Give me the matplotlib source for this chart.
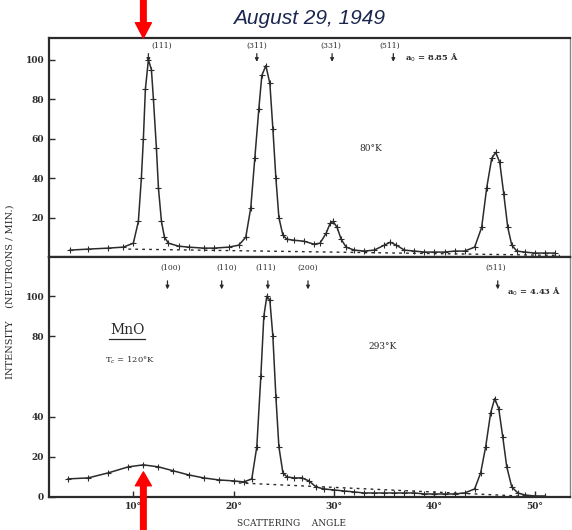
import matplotlib
matplotlib.use("Agg")
import matplotlib.pyplot as plt

#%% Data

# Upper panel: 80 K
ang_80 = [3.7, 5.5, 7.5, 9.0, 10.0, 10.5, 10.8, 11.0, 11.2, 11.5, 11.8, 12.0, 12.3, 12.5,
          12.8, 13.1, 13.5, 14.5, 15.5, 17.0, 18.0, 19.5, 20.5, 21.2, 21.7, 22.1, 22.5,
          22.8, 23.2, 23.6, 23.9, 24.2, 24.5, 24.9, 25.3, 26.0, 27.0, 28.0, 28.6, 29.2,
          29.6, 29.9, 30.3, 30.7, 31.2, 32.0, 33.0, 34.0, 35.0, 35.6, 36.2, 37.0, 38.0,
          39.0, 40.0, 41.0, 42.0, 43.0, 44.0, 44.7, 45.2, 45.7, 46.1, 46.5, 46.9, 47.3,
          47.7, 48.2, 49.0, 50.0, 51.0, 52.0]
int_80 = [3.5, 4, 4.5, 5, 7, 18, 40, 60, 85, 100, 95, 80, 55, 35,
          18, 10, 7, 5.5, 5, 4.5, 4.5, 5, 6, 10, 25, 50, 75,
          92, 97, 88, 65, 40, 20, 11, 9, 8.5, 8, 6.5, 7, 12,
          17, 18, 15, 9, 5, 3.5, 3, 3.5, 6, 7.5, 6, 3.5, 3,
          2.5, 2.5, 2.5, 3, 3, 5, 15, 35, 50, 53, 48, 32, 15,
          6, 3, 2.5, 2, 2, 2]
bg_80_ang = [9.5, 52.5]
bg_80_int = [4, 0.8]

# Lower panel: 293 K
ang_293 = [3.5, 5.5, 7.5, 9.5, 11.0, 12.5, 14.0, 15.5, 17.0, 18.5, 20.0, 21.0, 21.8,
           22.3, 22.7, 23.0, 23.3, 23.6, 23.9, 24.2, 24.5, 24.9, 25.3, 26.0, 26.8,
           27.5, 28.2, 29.0, 30.0, 31.0, 32.0, 33.0, 34.0, 35.0, 36.0, 37.0, 38.0,
           39.0, 40.0, 41.0, 42.0, 43.0, 44.0, 44.6, 45.1, 45.6, 46.0, 46.4, 46.8,
           47.2, 47.7, 48.3, 49.0, 50.0, 51.0]
int_293 = [9, 9.5, 12, 15, 16, 15, 13, 11, 9.5, 8.5, 8, 7.5, 9,
           25, 60, 90, 100, 98, 80, 50, 25, 12, 10, 9.5, 9.5,
           8, 5, 4, 3.5, 3, 2.5, 2, 2, 2, 2, 2, 2,
           1.5, 1.5, 1.5, 1.5, 2, 4, 12, 25, 42, 49, 44, 30,
           15, 5, 2, 1, 0.5, 0.5]
bg_293_ang = [20.5, 50.5]
bg_293_int = [7, 0]

# Reflection markers: (label, label angle, arrow angle)
refl_80 = [("(111)", 12.8, 11.5), ("(311)", 22.3, 22.3), ("(331)", 29.7, 29.8), ("(511)", 35.5, 35.9)]
refl_293 = [("(100)", 13.7, 13.4), ("(110)", 19.3, 18.8), ("(111)", 23.2, 23.4),
            ("(200)", 27.4, 27.4), ("(511)", 46.1, 46.3)]

x_ticks = [10, 20, 30, 40, 50]
x_ticklabels = ["10°", "20°", "30°", "40°", "50°"]
y_ticks_top = [20, 40, 60, 80, 100]
y_ticks_bot = [0, 20, 40, 80, 100]

arrow_angle = 11.0

#%% Figure
ink = "#2b2b2b"
tfont = "DejaVu Serif"
fig = plt.figure(figsize=(5.72, 5.30), dpi=100)
ax1 = fig.add_axes([0.0857, 0.5151, 0.9108, 0.4132])
ax2 = fig.add_axes([0.0857, 0.0623, 0.9108, 0.4528], sharex=ax1)

for ax in (ax1, ax2):
    for s in ax.spines.values():
        s.set_color(ink)
        s.set_linewidth(1.6)
    ax.spines["right"].set_color("#888888")
    ax.spines["right"].set_linewidth(1.0)
    ax.tick_params(direction="in", length=4, width=1, colors=ink, labelsize=6.5,
                   right=False, top=False)

ax1.plot(ang_80, int_80, color=ink, lw=1.1, marker="+", ms=4, mew=0.8)
ax1.plot(bg_80_ang, bg_80_int, color=ink, lw=1.0, ls=(0, (2, 3)))
ax2.plot(ang_293, int_293, color=ink, lw=1.1, marker="+", ms=4, mew=0.8)
ax2.plot(bg_293_ang, bg_293_int, color=ink, lw=1.0, ls=(0, (2, 3)))

ax1.set_xlim(1.6, 53.5)
ax1.set_ylim(0, 111)
ax2.set_ylim(0, 119.5)
ax1.set_yticks(y_ticks_top)
ax2.set_yticks(y_ticks_bot)
ax1.tick_params(axis="x", bottom=False, labelbottom=False)
ax2.set_xticks(x_ticks)
ax2.set_xticklabels(x_ticklabels)
for lab in ax1.get_yticklabels() + ax2.get_yticklabels() + ax2.get_xticklabels():
    lab.set_fontfamily(tfont)
    lab.set_fontweight("bold")

# reflection labels
for name, xl, xa in refl_80:
    ax1.text(xl, 107, name, ha="center", va="center", fontsize=5.5, family=tfont, color=ink)
    ax1.annotate("", xy=(xa, 97.5), xytext=(xa, 104.5),
                 arrowprops=dict(arrowstyle="-|>", color=ink, lw=0.9, mutation_scale=5))
ax1.text(37.1, 101, "a$_0$ = 8.85 Å", ha="left", va="center", fontsize=6, family=tfont,
         color=ink, fontweight="bold")
for name, xl, xa in refl_293:
    ax2.text(xl, 114, name, ha="center", va="center", fontsize=5.5, family=tfont, color=ink)
    ax2.annotate("", xy=(xa, 102), xytext=(xa, 109),
                 arrowprops=dict(arrowstyle="-|>", color=ink, lw=0.9, mutation_scale=5))
ax2.text(47.2, 102, "a$_0$ = 4.43 Å", ha="left", va="center", fontsize=6, family=tfont,
         color=ink, fontweight="bold")

ax1.text(33.7, 55, "80°K", ha="center", va="center", fontsize=6.5, family=tfont, color=ink)
ax2.text(34.8, 75, "293°K", ha="center", va="center", fontsize=6.5, family=tfont, color=ink)
ax2.text(9.4, 83, "MnO", ha="center", va="center", fontsize=10, family=tfont, color=ink)
ax2.plot([7.6, 11.2], [78.5, 78.5], color=ink, lw=0.9)
ax2.text(9.7, 68, "T$_c$ = 120°K", ha="center", va="center", fontsize=6, family=tfont, color=ink)

fig.text(0.018, 0.45, "INTENSITY    (NEUTRONS / MIN.)", rotation=90, ha="center", va="center",
         fontsize=7, family=tfont, color=ink)
fig.text(0.51, 0.013, "SCATTERING    ANGLE", ha="center", va="center",
         fontsize=6.5, family=tfont, color=ink)

fig.text(0.54, 0.966, "August 29, 1949", ha="center", va="center", fontsize=15,
         style="italic", family="Liberation Sans", color="#1c2750")

# red arrows
ax1.annotate("", xy=(arrow_angle, 1.0), xycoords=("data", "axes fraction"),
             xytext=(arrow_angle, 1.0), textcoords=("data", "figure fraction"),
             arrowprops=dict(facecolor="red", edgecolor="red", width=4, headwidth=11.5,
                             headlength=11, shrink=0), annotation_clip=False)
ax2.annotate("", xy=(arrow_angle, 12.5), xycoords="data",
             xytext=(arrow_angle, 0.0), textcoords=("data", "figure fraction"),
             arrowprops=dict(facecolor="red", edgecolor="red", width=4, headwidth=11.5,
                             headlength=10, shrink=0), annotation_clip=False)

fig.savefig("out.png", dpi=100)
